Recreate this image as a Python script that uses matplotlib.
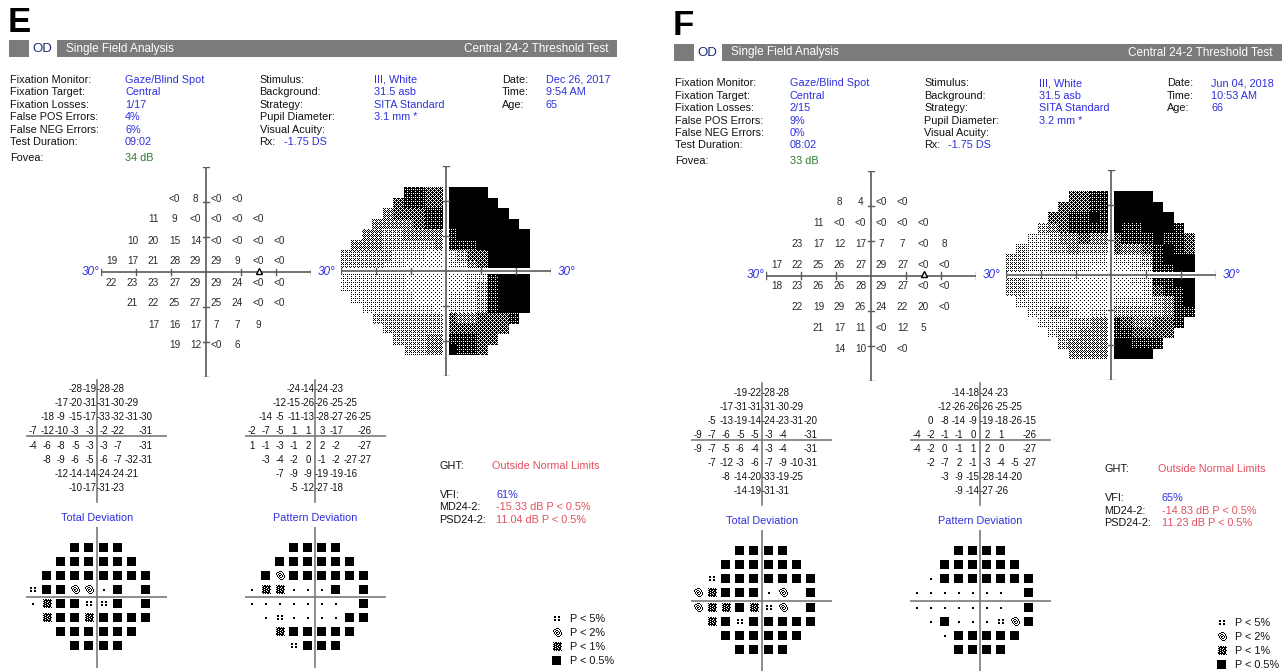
import numpy as np
import matplotlib
matplotlib.use("Agg")
import matplotlib.pyplot as plt
from matplotlib.path import Path as MPath

plt.rcParams['font.family'] = ['Liberation Sans', 'DejaVu Sans']

W, H, DPI = 1287, 672, 100

# ---------------------------------------------------------------- test grid
# 24-2 pattern, right eye; rows listed from superior to inferior
ROW_Y = [21, 15, 9, 3, -3, -9, -15, -21]
ROW_X = [
    [-9, -3, 3, 9],
    [-15, -9, -3, 3, 9, 15],
    [-21, -15, -9, -3, 3, 9, 15, 21],
    [-27, -21, -15, -9, -3, 3, 9, 15, 21],
    [-27, -21, -15, -9, -3, 3, 9, 15, 21],
    [-21, -15, -9, -3, 3, 9, 15, 21],
    [-15, -9, -3, 3, 9, 15],
    [-9, -3, 3, 9],
]
# deviation maps skip the two blind-spot locations
DEV_X = [[x for x in row if not (x == 15 and abs(y) == 3)] for row, y in zip(ROW_X, ROW_Y)]

LT0 = -1  # not seen at the brightest stimulus, printed as "<0"

# ---------------------------------------------------------------- exam E
E_threshold = [
    [LT0, 8, LT0, LT0],
    [11, 9, LT0, LT0, LT0, LT0],
    [10, 20, 15, 14, LT0, LT0, LT0, LT0],
    [19, 17, 21, 28, 29, 29, 9, LT0, LT0],
    [22, 23, 23, 27, 29, 29, 24, LT0, LT0],
    [21, 22, 25, 27, 25, 24, LT0, LT0],
    [17, 16, 17, 7, 7, 9],
    [19, 12, LT0, 6],
]
E_total_dev = [
    [-28, -19, -28, -28],
    [-17, -20, -31, -31, -30, -29],
    [-18, -9, -15, -17, -33, -32, -31, -30],
    [-7, -12, -10, -3, -3, -2, -22, -31],
    [-4, -6, -8, -5, -3, -3, -7, -31],
    [-8, -9, -6, -5, -6, -7, -32, -31],
    [-12, -14, -14, -24, -24, -21],
    [-10, -17, -31, -23],
]
E_pattern_dev = [
    [-24, -14, -24, -23],
    [-12, -15, -26, -26, -25, -25],
    [-14, -5, -11, -13, -28, -27, -26, -25],
    [-2, -7, -5, 1, 1, 3, -17, -26],
    [1, -1, -3, -1, 2, 2, -2, -27],
    [-3, -4, -2, 0, -1, -2, -27, -27],
    [-7, -9, -9, -19, -19, -16],
    [-5, -12, -27, -18],
]
# probability classes: 0 normal, 1 P<5%, 2 P<2%, 3 P<1%, 4 P<0.5%
E_total_prob = [
    [4, 4, 4, 4],
    [4, 4, 4, 4, 4, 4],
    [4, 4, 4, 4, 4, 4, 4, 4],
    [1, 4, 4, 2, 2, 0, 4, 4],
    [0, 3, 4, 4, 1, 1, 4, 4],
    [3, 4, 4, 3, 4, 4, 4, 4],
    [4, 4, 4, 4, 4, 4],
    [4, 4, 4, 4],
]
E_pattern_prob = [
    [4, 4, 4, 4],
    [4, 4, 4, 4, 4, 4],
    [4, 2, 4, 4, 4, 4, 4, 4],
    [0, 3, 3, 0, 0, 0, 4, 4],
    [0, 0, 0, 0, 0, 0, 0, 4],
    [0, 1, 0, 0, 0, 0, 4, 4],
    [3, 4, 4, 4, 4, 4],
    [1, 4, 4, 4],
]
E_reliability = ["Gaze/Blind Spot", "Central", "1/17", "4%", "6%", "09:02"]
E_stimulus = ["III, White", "31.5 asb", "SITA Standard", "3.1 mm *", ""]
E_rx = "-1.75 DS"
E_visit = ["Dec 26, 2017", "9:54 AM", "65"]
E_fovea = "34 dB"
E_indices = ["61%", "-15.33 dB P < 0.5%", "11.04 dB P < 0.5%"]

# ---------------------------------------------------------------- exam F
F_threshold = [
    [8, 4, LT0, LT0],
    [11, LT0, LT0, LT0, LT0, LT0],
    [23, 17, 12, 17, 7, 7, LT0, 8],
    [17, 22, 25, 26, 27, 29, 27, LT0, LT0],
    [18, 23, 26, 26, 28, 29, 27, LT0, LT0],
    [22, 19, 29, 26, 24, 22, 20, LT0],
    [21, 17, 11, LT0, 12, 5],
    [14, 10, LT0, LT0],
]
F_total_dev = [
    [-19, -22, -28, -28],
    [-17, -31, -31, -31, -30, -29],
    [-5, -13, -19, -14, -24, -23, -31, -20],
    [-9, -7, -6, -5, -5, -3, -4, -31],
    [-9, -7, -5, -6, -4, -3, -4, -31],
    [-7, -12, -3, -6, -7, -9, -10, -31],
    [-8, -14, -20, -33, -19, -25],
    [-14, -19, -31, -31],
]
F_pattern_dev = [
    [-14, -18, -24, -23],
    [-12, -26, -26, -26, -25, -25],
    [0, -8, -14, -9, -19, -18, -26, -15],
    [-4, -2, -1, -1, 0, 2, 1, -26],
    [-4, -2, 0, -1, 1, 2, 0, -27],
    [-2, -7, 2, -1, -3, -4, -5, -27],
    [-3, -9, -15, -28, -14, -20],
    [-9, -14, -27, -26],
]
F_total_prob = [
    [4, 4, 4, 4],
    [4, 4, 4, 4, 4, 4],
    [1, 4, 4, 4, 4, 4, 4, 4],
    [2, 3, 4, 4, 4, 0, 2, 4],
    [2, 3, 3, 4, 3, 1, 2, 4],
    [3, 4, 1, 4, 4, 4, 4, 4],
    [4, 4, 4, 4, 4, 4],
    [4, 4, 4, 4],
]
F_pattern_prob = [
    [4, 4, 4, 4],
    [4, 4, 4, 4, 4, 4],
    [0, 4, 4, 4, 4, 4, 4, 4],
    [0, 0, 0, 0, 0, 0, 0, 4],
    [0, 0, 0, 0, 0, 0, 0, 4],
    [0, 4, 0, 0, 0, 1, 2, 4],
    [0, 4, 4, 4, 4, 4],
    [4, 4, 4, 4],
]
F_reliability = ["Gaze/Blind Spot", "Central", "2/15", "9%", "0%", "08:02"]
F_stimulus = ["III, White", "31.5 asb", "SITA Standard", "3.2 mm *", ""]
F_rx = "-1.75 DS"
F_visit = ["Jun 04, 2018", "10:53 AM", "66"]
F_fovea = "33 dB"
F_indices = ["65%", "-14.83 dB P < 0.5%", "11.23 dB P < 0.5%"]

RELIABILITY_LABELS = ["Fixation Monitor:", "Fixation Target:", "Fixation Losses:",
                      "False POS Errors:", "False NEG Errors:", "Test Duration:"]
STIMULUS_LABELS = ["Stimulus:", "Background:", "Strategy:", "Pupil Diameter:", "Visual Acuity:"]
VISIT_LABELS = ["Date:", "Time:", "Age:"]
LEGEND_LABELS = ["P < 5%", "P < 2%", "P < 1%", "P < 0.5%"]

# ---------------------------------------------------------------- styling
BLUE = '#2f2fe0'
PINK = '#e2505e'
GREEN = '#2b7a2b'
NAVY = '#1c2a78'
BAR = '#7b7b7b'
AXIS = '#5a5a5a'
INK = '#111111'
FS = 7.8

# symbol bitmaps for probability classes (10 x 10 px)
SYMBOL_BITMAPS = {
    0: ["..........", "..........", "..........", "..........", "....XX....",
        "....XX....", "..........", "..........", "..........", ".........."],
    1: ["..........", "..........", "..XX..XX..", "..XX..XX..", "..........",
        "..XX..XX..", "..XX..XX..", "..........", "..........", ".........."],
    2: ["....XXX...", "..XX...X..", ".X..XX..X.", ".X.X..X.X.", "..X.XX.X.X",
        "..X.X..X.X", "...X.XX..X", "....X...X.", ".....XXX..", ".........."],
    3: [".X.XX.X.X.", "..XXXXXXXX", ".XX.XX.XX.", "..XXX.XXX.", ".XX.XXX.XX",
        "..XXX.XXX.", ".XX.XX.XX.", ".XXXXXXXX.", "..X.X.XX.X", ".........."],
    4: ["XXXXXXXXX."] * 9 + [".........."],
}


def bitmap_marker(rows):
    n = len(rows)
    verts, codes = [], []
    for r, line in enumerate(rows):
        for c, ch in enumerate(line):
            if ch == 'X':
                x0, y0 = c - n / 2, n / 2 - r - 1
                verts += [(x0, y0), (x0 + 1, y0), (x0 + 1, y0 + 1), (x0, y0 + 1), (x0, y0)]
                codes += [MPath.MOVETO, MPath.LINETO, MPath.LINETO, MPath.LINETO, MPath.CLOSEPOLY]
    # zero-area anchors keep every symbol on the same scale
    for p in [(-n / 2, -n / 2), (n / 2, n / 2)]:
        verts += [p, p]
        codes += [MPath.MOVETO, MPath.LINETO]
    return MPath(verts, codes)


MARKERS = {k: bitmap_marker(v) for k, v in SYMBOL_BITMAPS.items()}
MARKER_S = (10 * 72 / DPI) ** 2

# grayscale rendering (ordered dither, one tone per 5 dB band)
BAYER = np.array([[0, 8, 2, 10], [12, 4, 14, 6], [3, 11, 1, 9], [15, 7, 13, 5]])
GRAY_EDGES = [0.5, 5.5, 10.5, 15.5, 20.5, 25.5, 30.5]
GRAY_DARK = [16, 13, 10, 7, 5, 3, 2, 0]

fig = plt.figure(figsize=(W / DPI, H / DPI), dpi=DPI)
ax0 = fig.add_axes([0, 0, 1, 1])
ax0.set_xlim(0, W)
ax0.set_ylim(H, 0)
ax0.axis('off')


def sub_axes(left, top, size, lim=30):
    ax = fig.add_axes([left / W, 1 - (top + size) / H, size / W, size / H])
    ax.set_xlim(-lim, lim)
    ax.set_ylim(-lim, lim)
    ax.axis('off')
    return ax


def flat(rows_x, values):
    xs, ys, vs = [], [], []
    for y, row, vals in zip(ROW_Y, rows_x, values):
        for x, v in zip(row, vals):
            xs.append(x)
            ys.append(y)
            vs.append(v)
    return np.array(xs, float), np.array(ys, float), vs


def cross(ax, ext, color=AXIS, lw=1.2, ticks=True):
    ax.plot([-ext, ext], [0, 0], color=color, lw=lw, solid_capstyle='butt')
    ax.plot([0, 0], [-ext, ext], color=color, lw=lw, solid_capstyle='butt')
    if ticks:
        for t in (-30, -20, -10, 10, 20, 30):
            ax.plot([t, t], [-0.9, 0.9], color=color, lw=1.0)
            ax.plot([-0.9, 0.9], [t, t], color=color, lw=1.0)


def draw_threshold(ax, values):
    xs, ys, vs = flat(ROW_X, values)
    cross(ax, 30)
    for x, y, v in zip(xs, ys, vs):
        ax.text(x, y, "<0" if v == LT0 else str(v), ha='center', va='center',
                fontsize=7.2, color='#2a2a2a')
    ax.plot([15], [0.4], marker='^', ms=4.5, mfc='white', mec='black', mew=1.0)


def draw_grayscale(ax, values, n=210):
    xs, ys, vs = flat(ROW_X, values)
    vs = np.array(vs, float)
    cell = 3.0
    coords = -30 + (np.arange(n) + 0.5) * 60.0 / n
    X, Y = np.meshgrid(coords, coords[::-1])
    CX = (np.floor(X / cell) + 0.5) * cell
    CY = (np.floor(Y / cell) + 0.5) * cell
    img = np.ones((n, n))
    inside = (np.abs(CY) < 24) & (CX < 24) & (CX > -30) & (np.abs(CX) + np.abs(CY) < 36)
    gap = (np.abs(X) < 1.0) | (np.abs(Y) < 1.0)
    level = np.full((n, n), 7)
    for cx in np.unique(CX):
        for cy in np.unique(CY):
            sel = (CX == cx) & (CY == cy) & inside
            if not sel.any():
                continue
            q = (np.sign(xs) == np.sign(cx)) & (np.sign(ys) == np.sign(cy))
            d = np.hypot(xs[q] - cx, ys[q] - cy)
            order = np.argsort(d)[:4]
            w = 1.0 / d[order] ** 2
            v = np.sum(w * vs[q][order]) / np.sum(w)
            level[sel] = np.searchsorted(GRAY_EDGES, v)
    dark = np.array(GRAY_DARK)[level]
    ii, jj = np.indices((n, n))
    black = (BAYER[ii % 4, jj % 4] < dark) & inside & ~gap
    img[black] = 0.0
    ax.imshow(img, extent=(-30, 30, -30, 30), cmap='gray', vmin=0, vmax=1,
              interpolation='nearest', zorder=0)
    cross(ax, 30)


def draw_numbers(ax, values):
    xs, ys, vs = flat(DEV_X, values)
    ax.plot([-30, 30], [0.9, 0.9], color='#7a7a7a', lw=1.2)
    ax.plot([0, 0], [-27, 25], color='#7a7a7a', lw=1.2)
    for x, y, v in zip(xs, ys, vs):
        ax.text(x, y, str(v), ha='center', va='center', fontsize=6.9, color=INK)


def draw_probability(ax, classes):
    xs, ys, cs = flat(DEV_X, classes)
    cs = np.array(cs)
    cross(ax, 30, color='#7a7a7a', lw=1.2, ticks=False)
    for k, m in MARKERS.items():
        sel = cs == k
        if sel.any():
            ax.scatter(xs[sel], ys[sel], s=MARKER_S, marker=m, c='black',
                       linewidths=0, zorder=3)


def draw_report(dx, dy, letter, reliability, stimulus, rx, visit, fovea,
                threshold, total_dev, pattern_dev, total_prob, pattern_prob, indices):
    T = lambda x, y, s, **kw: ax0.text(x + dx, y + dy, s, va='center', **kw)
    T(8, 22, letter, fontsize=25, fontweight='bold', color='black')
    ax0.add_patch(plt.Rectangle((8.5 + dx, 40 + dy), 20, 17, color=BAR, lw=0))
    ax0.add_patch(plt.Rectangle((57 + dx, 40 + dy), 560, 17, color=BAR, lw=0))
    T(32, 49, "OD", fontsize=9.5, color=NAVY)
    T(66, 49, "Single Field Analysis", fontsize=8.5, color='white')
    T(608, 49, "Central 24-2 Threshold Test", fontsize=8.5, color='white', ha='right')

    row_y = [80, 92.4, 104.7, 117.2, 129.6, 142.0]
    for y, lab, val in zip(row_y, RELIABILITY_LABELS, reliability):
        T(10, y, lab, fontsize=FS, color=INK)
        T(125, y, val, fontsize=FS, color=BLUE)
    for y, lab, val in zip(row_y, STIMULUS_LABELS, stimulus):
        T(259.5, y, lab, fontsize=FS, color=INK)
        T(374, y, val, fontsize=FS, color=BLUE)
    T(259.5, row_y[5], "Rx:", fontsize=FS, color=INK)
    T(283.5, row_y[5], rx, fontsize=FS, color=BLUE)
    for y, lab, val in zip(row_y, VISIT_LABELS, visit):
        T(502, y, lab, fontsize=FS, color=INK)
        T(546, y, val, fontsize=FS, color=BLUE)
    T(10, 158, "Fovea:", fontsize=FS, color=INK)
    T(125, 158, fovea, fontsize=FS, color=GREEN)

    # threshold values and grayscale
    ax = sub_axes(101 + dx, 167 + dy, 210)
    draw_threshold(ax, threshold)
    ax = sub_axes(341 + dx, 166 + dy, 210)
    draw_grayscale(ax, threshold)
    deg = dict(fontsize=8.5, color=BLUE, style='italic')
    T(99, 272, "30°", ha='right', **deg)
    T(327, 272, "30°", ha='center', **deg)
    T(567, 272, "30°", ha='center', **deg)

    # deviation values
    for cx, vals in ((96.5, total_dev), (315, pattern_dev)):
        ax = sub_axes(cx - 70.5 + dx, 438.5 - 70.5 + dy, 141)
        draw_numbers(ax, vals)
    T(97, 518, "Total Deviation", fontsize=FS, color=BLUE, ha='center')
    T(315, 518, "Pattern Deviation", fontsize=FS, color=BLUE, ha='center')
    for cx, cls in ((96.5, total_prob), (315, pattern_prob)):
        ax = sub_axes(cx - 70.5 + dx, 597 - 70.5 + dy, 141)
        draw_probability(ax, cls)

    # global indices
    T(439.5, 466, "GHT:", fontsize=FS, color=INK)
    T(492.5, 466, "Outside Normal Limits", fontsize=FS, color=PINK)
    for y, lab, val, col in zip((494.5, 507.3, 520), ("VFI:", "MD24-2:", "PSD24-2:"),
                                indices, (BLUE, PINK, PINK)):
        T(439.5, y, lab, fontsize=FS, color=INK)
        T(496.5, y, val, fontsize=FS, color=col)

    # legend
    lax = fig.add_axes([(550 + dx) / W, 1 - (670 + dy) / H, 14 / W, 58 / H])
    lax.set_xlim(0, 14)
    lax.set_ylim(670, 612)
    lax.axis('off')
    for k, (y, lab) in enumerate(zip((619.3, 633.3, 647.3, 661.3), LEGEND_LABELS)):
        lax.scatter([6.7], [y], s=MARKER_S, marker=MARKERS[k + 1], c='black', linewidths=0)
        T(570, y, lab, fontsize=FS, color=INK)


draw_report(0, 0, "E", E_reliability, E_stimulus, E_rx, E_visit, E_fovea,
            E_threshold, E_total_dev, E_pattern_dev, E_total_prob, E_pattern_prob, E_indices)
draw_report(665, 3.5, "F", F_reliability, F_stimulus, F_rx, F_visit, F_fovea,
            F_threshold, F_total_dev, F_pattern_dev, F_total_prob, F_pattern_prob, F_indices)

fig.savefig("out.png", dpi=DPI, facecolor='white')
